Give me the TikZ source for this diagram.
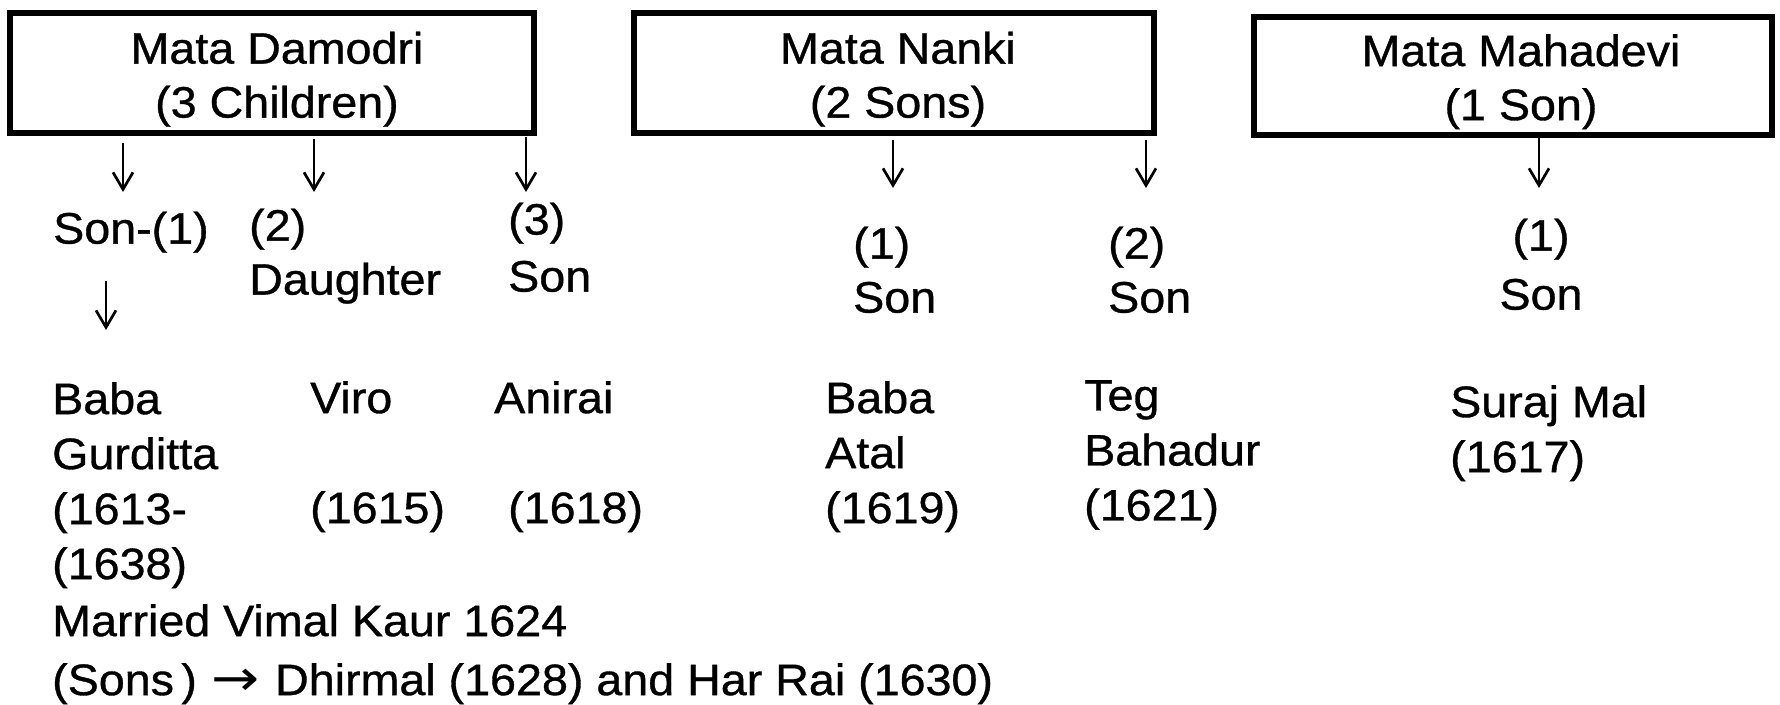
\documentclass[tikz,border=0pt]{standalone}
\usepackage{fontspec}
\setmainfont{Liberation Sans}[FakeStretch=1.06,FakeBold=0.8]
\newfontfamily\arrowfont{DejaVu Sans}[FakeStretch=1.15]
\usetikzlibrary{arrows.meta}
\begin{document}
\begin{tikzpicture}[x=1pt,y=-1pt,
  box/.style={draw, line width=6pt, inner sep=0pt},
  boxtxt/.style={font=\fontsize{44}{54}\selectfont, align=center, inner sep=0pt, anchor=north},
  lbl/.style={font=\fontsize{44}{54}\selectfont, align=left, inner sep=0pt, anchor=north west},
  btxt/.style={font=\fontsize{44}{55}\selectfont, align=left, inner sep=0pt, anchor=north west},
  arr/.style={line width=2.7pt, -{Straight Barb[length=17pt,width=20pt]}}]
\useasboundingbox (0,0) rectangle (1780,704);
\fill[white] (0,0) rectangle (1780,704);
% mothers
\node[box, minimum width=524pt, minimum height=120pt] (b1) at (272,73) {};
\node[boxtxt] (b1t) at (277,31.5) {Mata Damodri\\(3 Children)};
\node[box, minimum width=520pt, minimum height=120pt] (b2) at (894,73) {};
\node[boxtxt] (b2t) at (898,31.5) {Mata Nanki\\(2 Sons)};
\node[box, minimum width=518pt, minimum height=118pt] (b3) at (1513,76) {};
\node[boxtxt] (b3t) at (1521,34) {Mata Mahadevi\\(1 Son)};
% children labels
\node[lbl] (c11) at (53,211.5) {Son-(1)};
\node[lbl] (c12) at (249,208.5) {(2)\\Daughter};
\node[lbl, font=\fontsize{44}{57}\selectfont] (c13) at (508,202.5) {(3)\\Son};
\node[lbl] (c21) at (853,226.5) {(1)\\Son};
\node[lbl] (c22) at (1108,226.5) {(2)\\Son};
\node[lbl, align=center, anchor=north, font=\fontsize{44}{59}\selectfont] (c31) at (1541,218.5) {(1)\\Son};
% names
\node[btxt] (g1) at (52,382) {Baba\\Gurditta\\(1613-\\(1638)};
\node[btxt] (v1) at (310,381) {Viro\\[55pt](1615)};
\node[btxt] (a1) at (494,381) {Anirai\\[55pt]\hspace*{14pt}(1618)};
\node[btxt] (ba) at (825,381) {Baba\\Atal\\(1619)};
\node[btxt] (tb) at (1084,380) {Teg\\Bahadur\\(1621)};
\node[btxt] (sm) at (1450,385) {Suraj Mal\\(1617)};
\node[btxt] (m1) at (52,604) {Married Vimal Kaur 1624};
\node[btxt] (s1) at (52,663) {(Sons\,)\hspace{15pt}{\arrowfont\fontsize{50}{50}\selectfont →}\hspace{15pt}Dhirmal (1628) and Har Rai (1630)};
% arrow tips
\coordinate (k11) at (123,192);
\coordinate (k12) at (314,192);
\coordinate (k13) at (526,192);
\coordinate (k21) at (893,188);
\coordinate (k22) at (1146,188);
\coordinate (k31) at (1539,188);
\coordinate (kg) at (106,330);
\draw[arr, shorten <=7pt] (b1.south -| k11) -- (k11);
\draw[arr, shorten <=3pt] (b1.south -| k12) -- (k12);
\draw[arr, shorten <=1pt] (b1.south -| k13) -- (k13);
\draw[arr, shorten <=4pt] (b2.south -| k21) -- (k21);
\draw[arr, shorten <=4pt] (b2.south -| k22) -- (k22);
\draw[arr, shorten <=0pt] (b3.south -| k31) -- (k31);
\draw[arr, shorten <=28pt] (c11.south -| kg) -- (kg);
\end{tikzpicture}
\end{document}
